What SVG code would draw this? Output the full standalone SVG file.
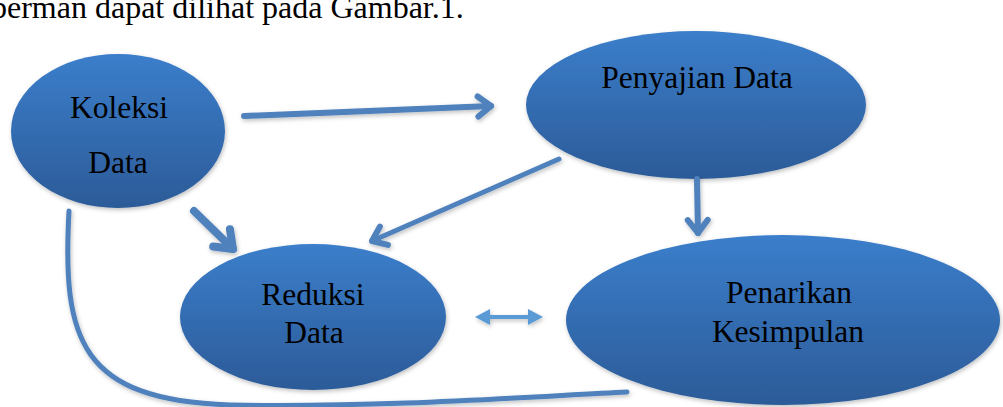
<svg xmlns="http://www.w3.org/2000/svg" width="1003" height="407" viewBox="0 0 1003 407">
<defs>
<linearGradient id="g" x1="0" y1="0" x2="0" y2="1">
<stop offset="0" stop-color="#3b7ecb"/>
<stop offset="1" stop-color="#2c5b98"/>
</linearGradient>
<filter id="sh" x="-10%" y="-10%" width="130%" height="130%">
<feDropShadow dx="1" dy="2" stdDeviation="2" flood-color="#000" flood-opacity="0.25"/>
</filter>
<marker id="open" markerWidth="30" markerHeight="30" markerUnits="userSpaceOnUse" refX="0" refY="0" orient="auto" overflow="visible">
<path d="M-13,-10 L0,0 L-13,10" fill="none" stroke="#4f81bd" stroke-width="6" stroke-linecap="round" stroke-linejoin="round"/>
</marker>
<marker id="open2" markerWidth="30" markerHeight="30" markerUnits="userSpaceOnUse" refX="0" refY="0" orient="auto" overflow="visible">
<path d="M-16,-12 L0,0 L-16,12" fill="none" stroke="#4f81bd" stroke-width="8" stroke-linecap="round" stroke-linejoin="round"/>
</marker>
</defs>
<style>
.node ellipse{fill:url(#g);filter:url(#sh)}
.lbl{font-family:"Liberation Serif","Times New Roman",serif;font-size:31.5px;fill:#000;text-anchor:middle}
.conn{fill:none;stroke:#4f81bd;stroke-linecap:round}
</style>
<rect width="1003" height="407" fill="#fff"/>
<text x="-9" y="18" font-family="Liberation Serif, Times New Roman, serif" font-size="32" fill="#000">berman dapat dilihat pada Gambar.1.</text>
<g id="koleksi" class="node">
<ellipse cx="118" cy="131" rx="107" ry="77"/>
<text class="lbl" x="119" y="118">Koleksi</text>
<text class="lbl" x="118" y="173">Data</text>
</g>
<g id="penyajian" class="node">
<ellipse cx="696" cy="105" rx="170" ry="74"/>
<text class="lbl" x="697" y="88">Penyajian Data</text>
</g>
<g id="reduksi" class="node">
<ellipse cx="313" cy="317" rx="133" ry="73"/>
<text class="lbl" x="313" y="305">Reduksi</text>
<text class="lbl" x="314" y="343">Data</text>
</g>
<g id="penarikan" class="node">
<ellipse cx="783" cy="320" rx="217" ry="85"/>
<text class="lbl" x="789" y="303">Penarikan</text>
<text class="lbl" x="788" y="342">Kesimpulan</text>
</g>
<g id="connectors" filter="url(#sh)">
<path class="conn" d="M69 211 C62 340 80 400 230 405 C380 408 540 396 627 392" stroke-width="5"/>
<path class="conn" d="M244 116 L491 106" stroke-width="6" marker-end="url(#open)"/>
<path class="conn" d="M194 211 L233 249" stroke-width="8" marker-end="url(#open2)"/>
<path class="conn" d="M559 159 L372 241" stroke-width="5" marker-end="url(#open)"/>
<path class="conn" d="M697 179 L698 233" stroke-width="6" marker-end="url(#open)"/>
<path fill="#5a9bd5" d="M475 317 L490 309 L490 315 L528 315 L528 309 L543 317 L528 325 L528 319 L490 319 L490 325 Z"/>
</g>
</svg>
